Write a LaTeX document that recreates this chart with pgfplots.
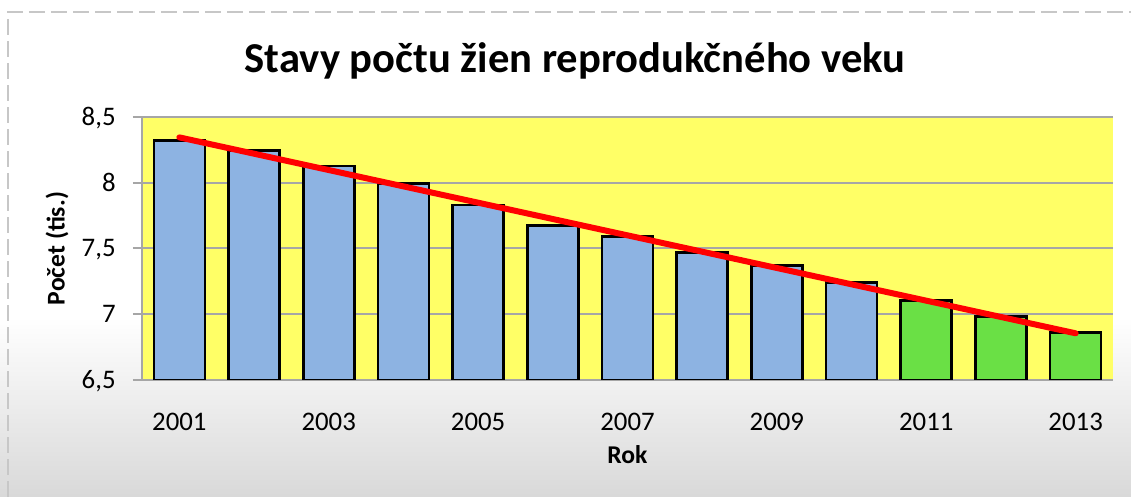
\documentclass[border=0pt]{standalone}
\usepackage{fontspec}
\setmainfont{Carlito}
\usepackage{pgfplots}
\pgfplotsset{compat=1.18}
\definecolor{barblue}{HTML}{8DB3E2}
\definecolor{bargreen}{HTML}{6AE045}
\definecolor{plotyellow}{HTML}{FFFF66}
\definecolor{gridgray}{HTML}{A6A6A6}
\begin{document}
\begin{tikzpicture}[x=0.5pt,y=0.5pt]
\useasboundingbox (0,0) rectangle (1131,497);
\fill[white] (0,0) rectangle (1131,497);
\shade[top color=white,bottom color=black!15] (0,0) rectangle (1131,180);
\draw[black!22,line width=1pt,dash pattern=on 8pt off 3pt] (8,0) -- (8,485) -- (1131,485);
\node[anchor=base,font=\bfseries\fontsize{21.3}{24}\selectfont] at (575,424)
  {Stavy počtu žien reprodukčného veku};
\begin{axis}[
  at={(71pt,58.5pt)}, anchor=south west,
  scale only axis, width=485.5pt, height=131.5pt,
  xmin=-0.5, xmax=12.5, ymin=6.5, ymax=8.5,
  axis x line*=bottom, axis y line*=left,
  axis line style={-, draw=gridgray, line width=1pt},
  axis background/.style={fill=plotyellow},
  ymajorgrids, grid style={gridgray, line width=1pt},
  ytick={6.5,7,7.5,8,8.5}, yticklabels={{6,5},7,{7,5},8,{8,5}},
  xtick={0,2,4,6,8,10,12},
  xticklabels={2001,2003,2005,2007,2009,2011,2013},
  tick align=outside, major tick length=4.5pt,
  x tick style={draw=none}, y tick style={draw=gridgray, line width=1pt},
  ticklabel style={font=\fontsize{13.4}{15}\selectfont},
  yticklabel style={anchor=base east, inner sep=0pt, xshift=-8.5pt, yshift=-4.2pt},
  xticklabel style={anchor=base, inner sep=0pt, yshift=-21pt},
  ylabel={Počet (tis.)}, xlabel={Rok},
  label style={font=\bfseries\fontsize{12.8}{15}\selectfont},
  ylabel style={at={(axis description cs:-0.0875,0.5)}, anchor=center},
  xlabel style={at={(axis description cs:0.5,-0.285)}, anchor=center},
  ybar, bar width=25.5pt,
]
\addplot[fill=barblue, draw=black, line width=1.3pt, bar shift=0pt] coordinates {
(0,8.32) (1,8.244) (2,8.127) (3,7.995) (4,7.83) (5,7.675)
(6,7.59) (7,7.47) (8,7.37) (9,7.243)
};
\addplot[fill=bargreen, draw=black, line width=1.3pt, bar shift=0pt] coordinates {
(10,7.103) (11,6.981) (12,6.86)
};
\addplot[sharp plot, red, line width=3pt, line cap=round] coordinates {
(0,8.345) (12,6.855)
};
\end{axis}
\end{tikzpicture}
\end{document}
